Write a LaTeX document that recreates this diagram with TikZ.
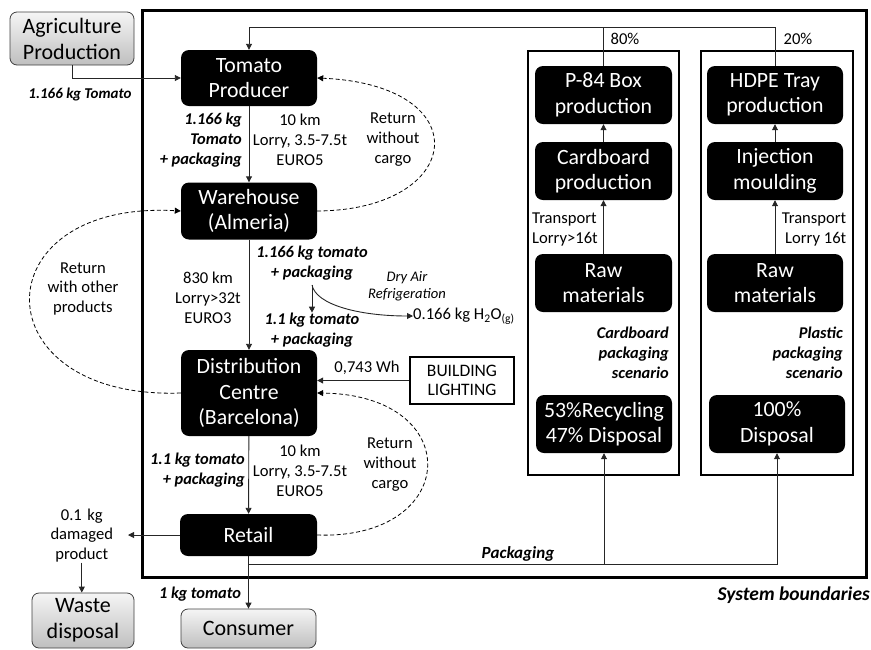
\documentclass[tikz,border=0pt]{standalone}
\usepackage{fontspec}
\setmainfont{Carlito}
\usetikzlibrary{arrows.meta}
\begin{document}
\begin{tikzpicture}[x=1pt,y=-1pt,
 blk/.style={fill=black, text=white, rounded corners=8pt, align=center, font=\fontsize{21.8}{25.5}\selectfont, inner sep=0pt},
 gry/.style={draw=black!75, line width=0.8pt, top color=black!4, bottom color=black!25, rounded corners=7pt, align=center, font=\fontsize{22}{26}\selectfont, inner sep=0pt},
 lbl/.style={align=center, font=\fontsize{16.6}{19.8}\selectfont, inner sep=0pt},
 bi/.style={align=center, font=\fontsize{16.4}{20}\selectfont\bfseries\itshape, inner sep=0pt},
 arr/.style={draw=black!85, line width=0.9pt, -{Triangle[length=6pt,width=6pt]}},
 ln/.style={draw=black!85, line width=0.9pt},
 dsh/.style={draw=black, line width=0.8pt, dash pattern=on 4pt off 2.5pt, -{Triangle[length=6pt,width=6pt]}},
 frame/.style={draw=black, line width=2.5pt}
]
\useasboundingbox (0,0) rectangle (871,649);
% frames
\draw[frame, line width=3pt] (142,10) rectangle (866,577);
\draw[frame] (528,51) rectangle (679,475);
\draw[frame] (701,51) rectangle (853,475);
% main chain
\node[gry, minimum width=124pt, minimum height=53pt] (agri) at (72,38.5) {Agriculture\\Production};
\node[blk, minimum width=136pt, minimum height=56pt] (tom) at (249,78) {Tomato\\Producer};
\node[blk, minimum width=136pt, minimum height=57pt] (wh) at (249,211) {Warehouse\\(Almeria)};
\node[blk, minimum width=136pt, minimum height=86pt] (dc) at (249,393) {Distribution\\Centre\\(Barcelona)};
\node[blk, minimum width=137pt, minimum height=42pt] (ret) at (248.5,535) {Retail};
\node[gry, minimum width=135pt, minimum height=39pt] (con) at (248.5,628.5) {Consumer};
\node[gry, minimum width=102pt, minimum height=55pt] (wst) at (83,620.5) {Waste\\disposal};
% packaging columns
\node[blk, minimum width=137pt, minimum height=58pt] (p84) at (603.5,95) {P-84 Box\\production};
\node[blk, minimum width=137pt, minimum height=58pt] (card) at (603.5,171) {Cardboard\\production};
\node[blk, minimum width=137pt, minimum height=58pt] (rawl) at (603.5,283) {Raw\\materials};
\node[blk, minimum width=136pt, minimum height=58pt] (rec) at (604,424) {53\%Recycling\\47\% Disposal};
\node[blk, minimum width=136pt, minimum height=58pt] (hdpe) at (775,95) {HDPE Tray\\production};
\node[blk, minimum width=136pt, minimum height=58pt] (inj) at (775,171) {Injection\\moulding};
\node[blk, minimum width=136pt, minimum height=58pt] (rawr) at (775,283) {Raw\\materials};
\node[blk, minimum width=136pt, minimum height=58pt] (disp) at (777,424) {100\%\\Disposal};
\node[draw, line width=2.5pt, minimum width=104pt, minimum height=47pt, align=center, inner sep=0pt, font=\fontsize{17.5}{19}\selectfont] (bld) at (462,380.5) {BUILDING\\LIGHTING};
% labels
\node[bi, font=\fontsize{15}{18}\selectfont\bfseries\itshape] at (80,94) {1.166 kg Tomato};
\node[bi, align=right, anchor=east] at (242,140) {1.166 kg\\Tomato\\+ packaging};
\node[lbl] at (300,139.5) {10 km\\Lorry, 3.5-7.5t\\EURO5};
\node[lbl] at (393,139.5) {Return\\without\\cargo};
\node[lbl] at (83,289) {Return\\with other\\products};
\node[lbl] at (208,298) {830 km\\Lorry>32t\\EURO3};
\node[bi] (w1) at (312,263) {1.166 kg tomato\\+ packaging};
\node[bi] (w2) at (312,330) {1.1 kg tomato\\+ packaging};
\node[align=center, inner sep=0pt, font=\fontsize{14.6}{17}\selectfont\itshape] (dry) at (407,286.5) {Dry Air\\Refrigeration};
\node[lbl, anchor=west] (h2o) at (413,316) {0.166 kg H\textsubscript{2}O\textsubscript{(g)}};
\node[lbl] (wlbl) at (367,368) {0,743 Wh};
\node[bi, align=right, anchor=east] at (245,470) {1.1 kg tomato\\+ packaging};
\node[lbl] at (300,470.5) {10 km\\Lorry, 3.5-7.5t\\EURO5};
\node[lbl] at (390,464.5) {Return\\without\\cargo};
\node[lbl, text width=92pt, anchor=east] (dmg) at (128,535.5) {0.1 kg\\damaged\\product};
\node[bi] at (200,594) {1 kg tomato};
\node[bi, font=\fontsize{19.5}{22}\selectfont\bfseries\itshape, anchor=east] at (870,595) {System boundaries};
\node[bi, font=\fontsize{17}{20}\selectfont\bfseries\itshape] at (518,554) {Packaging};
\node[lbl] at (625,39) {80\%};
\node[lbl] at (798,39) {20\%};
\node[lbl, align=left] at (565,229.5) {Transport\\Lorry>16t};
\node[lbl, align=right] at (814,229.5) {Transport\\Lorry 16t};
\node[bi, align=right, anchor=east] at (669,353) {Cardboard\\packaging\\scenario};
\node[bi, align=right, anchor=east] at (843,353) {Plastic\\packaging\\scenario};
% connectors
\draw[arr] (agri.south) |- (tom.west);
\draw[arr] (tom) -- (wh);
\draw[arr] (wh) -- (dc);
\draw[arr] (dc) -- (ret);
\draw[arr] (ret) -- (con);
\coordinate (t1) at (603.5,27);
\coordinate (t2) at (775,27);
\draw[arr] (p84.north) -- (t1) -| (tom.north);
\draw[ln] (hdpe.north) -- (t2) -- (t1);
\draw[arr] (card) -- (p84);
\draw[arr] (rawl) -- (card);
\draw[arr] (inj) -- (hdpe);
\draw[arr] (rawr) -- (inj);
\coordinate (pk) at (248.5,564);
\draw[arr] (pk) -| (rec.south);
\draw[arr] (pk) -| (disp.south);
\draw[arr] (ret.west) -- (ret.west -| dmg.east);
\draw[arr] (dmg.south) -- (dmg.south |- wst.north);
\draw[arr] (bld.west) -- (bld.west -| dc.east);
\coordinate (rf) at (312,285);
\draw[arr] (rf) -- (w2.north);
\draw[arr] (rf) .. controls (316,305) and (360,316) .. (h2o.west);
\draw[dsh] (wh.east) .. controls (465,210) and (480,85) .. (tom.east);
\draw[dsh] (dc.west) .. controls (-20,400) and (-20,200) .. (wh.west);
\draw[dsh] (ret.east) .. controls (460,540) and (467,395) .. (dc.east);
\end{tikzpicture}
\end{document}
